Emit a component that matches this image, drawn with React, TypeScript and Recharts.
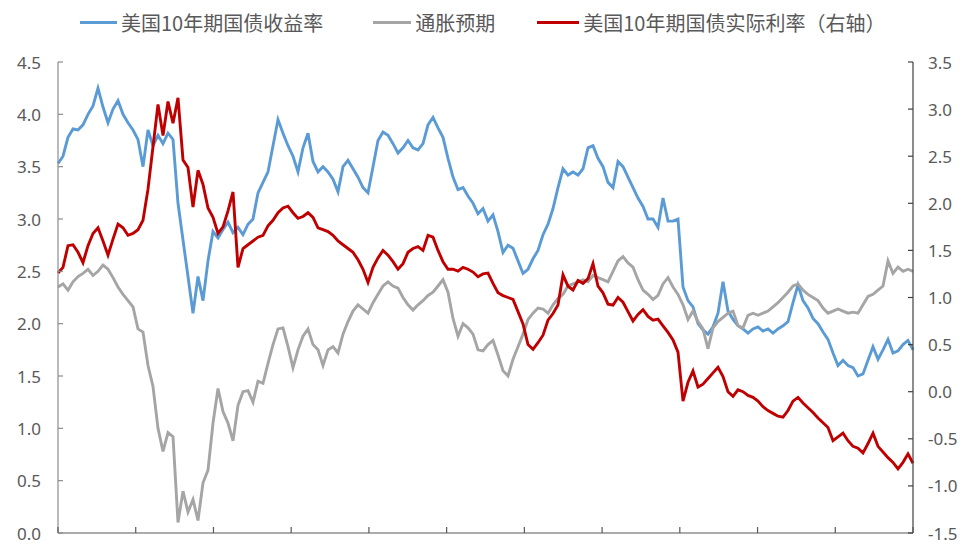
import React from "react";
import { LineChart, Line, XAxis, YAxis, Legend } from "recharts";

// 美国10年期国债收益率 (left axis, %)
const blue = [
  3.53, 3.6, 3.78, 3.86, 3.85, 3.9, 4.0, 4.08, 4.25, 4.07,
  3.92, 4.05, 4.13, 4.0, 3.92, 3.85, 3.76, 3.5, 3.85, 3.7,
  3.8, 3.72, 3.82, 3.76, 3.15, 2.8, 2.45, 2.1, 2.45, 2.22,
  2.6, 2.88, 2.82, 2.9, 2.97, 2.87, 2.92, 2.85, 2.95, 3.0,
  3.25, 3.35, 3.45, 3.7, 3.95, 3.82, 3.7, 3.6, 3.45, 3.68,
  3.82, 3.55, 3.45, 3.5, 3.45, 3.38, 3.26, 3.5, 3.56, 3.48,
  3.4, 3.3, 3.25, 3.5, 3.75, 3.83, 3.8, 3.72, 3.63, 3.68,
  3.75, 3.68, 3.66, 3.72, 3.9, 3.97, 3.87, 3.78, 3.58, 3.4,
  3.28, 3.3, 3.22, 3.15, 3.05, 3.1, 2.98, 3.04, 2.88, 2.68,
  2.75, 2.72, 2.6, 2.48, 2.52, 2.62, 2.7, 2.85, 2.95, 3.1,
  3.3, 3.48, 3.42, 3.45, 3.42, 3.48, 3.68, 3.7, 3.58, 3.5,
  3.35, 3.3, 3.55, 3.5, 3.4, 3.3, 3.2, 3.12, 3.0, 3.0,
  2.92, 3.2, 2.98, 2.98, 3.0, 2.35, 2.22, 2.16, 2.0, 1.94,
  1.9, 1.97, 2.1, 2.4, 2.12, 2.04, 1.98, 1.95, 1.91, 1.95,
  1.97, 1.93, 1.95, 1.91, 1.95, 1.98, 2.02, 2.2, 2.37, 2.22,
  2.15, 2.05, 2.0, 1.92, 1.85, 1.72, 1.6, 1.65, 1.6, 1.58,
  1.5, 1.52, 1.65, 1.78, 1.66, 1.75, 1.85, 1.72, 1.74, 1.8,
  1.84, 1.75,
];

// 通胀预期 (left axis, %)
const gray = [
  2.35, 2.38, 2.32, 2.4, 2.45, 2.48, 2.52, 2.46, 2.5, 2.56,
  2.52, 2.44, 2.35, 2.28, 2.22, 2.16, 1.95, 1.92, 1.6, 1.4,
  1.0, 0.78, 0.96, 0.92, 0.1, 0.4, 0.2, 0.32, 0.12, 0.48,
  0.6, 1.05, 1.38, 1.16, 1.05, 0.88, 1.22, 1.35, 1.36, 1.25,
  1.45, 1.43, 1.62, 1.8, 1.95, 1.96, 1.78, 1.58, 1.75, 1.88,
  1.95, 1.8, 1.75, 1.6, 1.75, 1.78, 1.72, 1.9, 2.02, 2.12,
  2.18, 2.14, 2.1, 2.2, 2.28, 2.36, 2.4, 2.36, 2.34, 2.25,
  2.18, 2.13, 2.18, 2.22, 2.27, 2.3, 2.36, 2.42, 2.3, 2.05,
  1.88, 2.0, 1.96, 1.9, 1.75, 1.74, 1.8, 1.84, 1.7, 1.55,
  1.5, 1.66, 1.78, 1.9, 2.04, 2.1, 2.15, 2.14, 2.1, 2.18,
  2.24, 2.28, 2.36, 2.38, 2.4, 2.42, 2.4, 2.46, 2.44, 2.42,
  2.4, 2.5, 2.6, 2.64, 2.58, 2.54, 2.42, 2.32, 2.28, 2.23,
  2.27, 2.38, 2.44, 2.35, 2.28, 2.18, 2.04, 2.12, 2.02, 1.95,
  1.76, 1.96, 2.02, 2.06, 2.1, 2.12, 1.98, 1.96, 2.08, 2.1,
  2.08, 2.1, 2.12, 2.16, 2.2, 2.25, 2.3, 2.36, 2.38, 2.32,
  2.28, 2.25, 2.22, 2.15, 2.1, 2.12, 2.14, 2.12, 2.1, 2.11,
  2.1, 2.18, 2.26, 2.28, 2.32, 2.36, 2.6, 2.48, 2.54, 2.5,
  2.52, 2.5,
];

// 美国10年期国债实际利率 (right axis, %)
const red = [
  1.26, 1.32, 1.55, 1.56, 1.48, 1.37, 1.55, 1.68, 1.74, 1.6,
  1.45, 1.62, 1.78, 1.74, 1.66, 1.68, 1.72, 1.82, 2.15, 2.6,
  3.05, 2.72, 3.08, 2.85, 3.12, 2.46, 2.38, 1.96, 2.35, 2.2,
  1.95, 1.85, 1.68, 1.75, 1.92, 2.12, 1.32, 1.52, 1.56, 1.6,
  1.64, 1.66, 1.76, 1.82, 1.9, 1.95, 1.97, 1.9, 1.84, 1.86,
  1.9, 1.85, 1.74, 1.72, 1.7, 1.66, 1.6, 1.56, 1.52, 1.48,
  1.4, 1.3, 1.16, 1.32, 1.42, 1.5, 1.45, 1.38, 1.3, 1.36,
  1.48, 1.52, 1.54, 1.5, 1.66, 1.64, 1.5, 1.38, 1.3, 1.3,
  1.28, 1.32, 1.3, 1.27, 1.22, 1.25, 1.26, 1.15, 1.05, 1.02,
  1.0, 0.98, 0.85, 0.72, 0.5, 0.45, 0.52, 0.6, 0.76, 0.83,
  0.92, 1.24, 1.12, 1.08, 1.18, 1.15, 1.2, 1.36, 1.12, 1.05,
  0.93, 0.92, 1.0, 0.95, 0.85, 0.75, 0.82, 0.87, 0.8, 0.76,
  0.77, 0.7, 0.63, 0.55, 0.42, -0.1, 0.1, 0.22, 0.05, 0.08,
  0.14, 0.2, 0.26, 0.16, 0.0, -0.05, 0.02, 0.0, -0.04, -0.06,
  -0.1, -0.16, -0.2, -0.23, -0.26, -0.27, -0.2, -0.1, -0.06, -0.12,
  -0.17, -0.22, -0.28, -0.33, -0.38, -0.52, -0.48, -0.44, -0.52, -0.58,
  -0.6, -0.65, -0.55, -0.44, -0.58, -0.64, -0.7, -0.75, -0.82, -0.75,
  -0.66, -0.76,
];

const leftTicks = [0, 0.5, 1, 1.5, 2, 2.5, 3, 3.5, 4, 4.5];
const rightTicks = [-1.5, -1, -0.5, 0, 0.5, 1, 1.5, 2, 2.5, 3, 3.5];
const xIntervals = 11;

const seriesNames = {
  blue: "美国10年期国债收益率",
  gray: "通胀预期",
  red: "美国10年期国债实际利率（右轴）",
};

const COLORS = { blue: "#5B9BD5", gray: "#A5A5A5", red: "#C00000" };

const lastIndex = blue.length - 1;
const data = blue.map((_, i) => ({ i, blue: blue[i], gray: gray[i], red: red[i] }));
const xTicks = Array.from({ length: xIntervals + 1 }, (_, k) => (k * lastIndex) / xIntervals);

const TICK_FONT = "'Noto Sans', 'DejaVu Sans', sans-serif";

const LeftTick = (props: any) => {
  const { x, y, payload } = props;
  return (
    <g>
      <line x1={x} x2={x + 5} y1={y} y2={y} stroke="#8C8C8C" strokeWidth={1.2} />
      <text x={x - 17} y={y} textAnchor="end" dominantBaseline="central" fontSize={17} fill="#595959" fontFamily={TICK_FONT}>
        {Number(payload.value).toFixed(1)}
      </text>
    </g>
  );
};

const RightTick = (props: any) => {
  const { x, y, payload } = props;
  return (
    <g>
      <line x1={x} x2={x - 5} y1={y} y2={y} stroke="#404040" strokeWidth={1.2} />
      <text x={x + 15} y={y} textAnchor="start" dominantBaseline="central" fontSize={17} fill="#595959" fontFamily={TICK_FONT}>
        {Number(payload.value).toFixed(1)}
      </text>
    </g>
  );
};

const BottomTick = (props: any) => {
  const { x, y } = props;
  return <line x1={x} x2={x} y1={y} y2={y - 6} stroke="#595959" strokeWidth={1.2} />;
};

const LegendContent = () => {
  const items = [
    { key: "blue", w: 37, gapAfter: 50 },
    { key: "gray", w: 38, gapAfter: 42 },
    { key: "red", w: 42, gapAfter: 0 },
  ] as const;
  return (
    <div
      style={{
        display: "flex",
        alignItems: "center",
        paddingLeft: 80,
        paddingTop: 7,
        height: 30,
        fontFamily: "'Noto Sans CJK SC', sans-serif",
        fontSize: 20,
        color: "#595959",
        whiteSpace: "nowrap",
      }}
    >
      {items.map((it) => (
        <div key={it.key} style={{ display: "flex", alignItems: "center", marginRight: it.gapAfter }}>
          <div style={{ width: it.w, height: 3, background: COLORS[it.key], marginRight: 4 }} />
          <span>{seriesNames[it.key]}</span>
        </div>
      ))}
    </div>
  );
};

export default function App() {
  return (
    <div style={{ position: "absolute", left: 0, top: 0, width: 960, height: 541, background: "#fff" }}>
      <LineChart width={960} height={541} data={data} margin={{ top: 4, right: 0, bottom: 0, left: 0 }}>
        <Legend
          verticalAlign="top"
          height={58}
          content={<LegendContent />}
          wrapperStyle={{ top: 0, left: 0, width: 960, height: 58 }}
        />
        <XAxis
          dataKey="i"
          type="number"
          domain={[0, lastIndex]}
          ticks={xTicks}
          tickSize={0}
          tickMargin={0}
          tick={<BottomTick />}
          tickLine={false}
          height={8}
          axisLine={{ stroke: "#595959", strokeWidth: 1.2 }}
          interval={0}
        />
        <YAxis
          yAxisId="left"
          orientation="left"
          domain={[0, 4.5]}
          ticks={leftTicks}
          width={58}
          tickSize={0}
          tickMargin={0}
          tick={<LeftTick />}
          tickLine={false}
          axisLine={{ stroke: "#8C8C8C", strokeWidth: 1.2 }}
          interval={0}
          allowDataOverflow
        />
        <YAxis
          yAxisId="right"
          orientation="right"
          domain={[-1.5, 3.5]}
          ticks={rightTicks}
          width={47}
          tickSize={0}
          tickMargin={0}
          tick={<RightTick />}
          tickLine={false}
          axisLine={{ stroke: "#404040", strokeWidth: 1.2 }}
          interval={0}
          allowDataOverflow
        />
        <Line yAxisId="left" type="linear" dataKey="blue" stroke={COLORS.blue} strokeWidth={2.9} dot={false} isAnimationActive={false} />
        <Line yAxisId="left" type="linear" dataKey="gray" stroke={COLORS.gray} strokeWidth={2.9} dot={false} isAnimationActive={false} />
        <Line yAxisId="right" type="linear" dataKey="red" stroke={COLORS.red} strokeWidth={2.9} dot={false} isAnimationActive={false} />
      </LineChart>
    </div>
  );
}
